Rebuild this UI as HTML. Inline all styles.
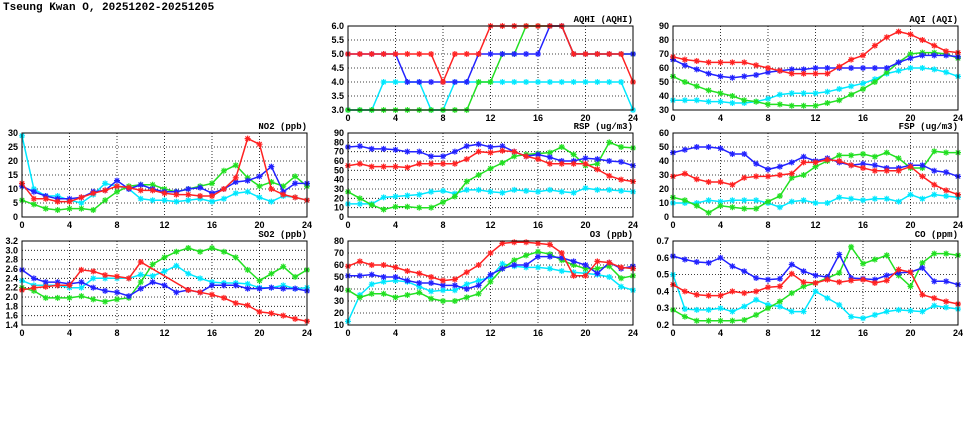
<!DOCTYPE html>
<html><head><meta charset="utf-8"><style>
body{margin:0;background:#fff;width:975px;height:447px;overflow:hidden}
svg{display:block}
text{font-family:"Liberation Sans",sans-serif;font-size:9px;font-weight:bold;fill:#000}
.t{font-family:"Liberation Mono",monospace;font-size:9px;font-weight:bold}
</style></head><body>
<svg id="s" width="975" height="447" xmlns="http://www.w3.org/2000/svg">
<text x="3" y="10" class="t" style="font-size:11px">Tseung Kwan O, 20251202-20251205</text>
</svg>
<script>
const C={c:"#00e8ff",g:"#22e022",b:"#2222ff",r:"#ff2222"};
const P=[
{t:"AQHI (AQHI)",x:348,y:26,min:3,max:6,st:0.5,dec:1,d:{
c:[3,3,3,4,4,4,4,3,3,4,4,4,4,4,4,4,4,4,4,4,4,4,4,4,3],
g:[3,3,3,3,3,3,3,3,3,3,3,4,4,5,5,6,6,6,6,5,5,5,5,5,5],
b:[5,5,5,5,5,4,4,4,4,4,4,5,5,5,5,5,5,6,6,5,5,5,5,5,5],
r:[5,5,5,5,5,5,5,5,4,5,5,5,6,6,6,6,6,6,6,5,5,5,5,5,4]}},
{t:"AQI (AQI)",x:673,y:26,min:30,max:90,st:10,dec:0,d:{
c:[37,37,37,36,36,35,35,36,38,41,42,42,42,43,45,47,49,52,56,58,60,60,59,57,54],
g:[54,50,47,44,42,40,37,36,34,34,33,33,33,35,37,41,45,50,57,64,70,71,71,70,67],
b:[66,62,59,56,54,53,54,55,57,58,59,59,60,60,60,60,60,60,60,64,67,69,69,69,68],
r:[68,66,65,64,64,64,64,62,60,58,56,56,56,56,61,66,69,76,82,86,84,80,76,72,71]}},
{t:"NO2 (ppb)",x:22,y:133,min:0,max:30,st:5,dec:0,d:{
c:[29,10,7.5,7.5,6,5,8,12,11,10,6.5,6,6,5.5,6,6.5,5.5,6.5,8.5,9,7,5.5,7.5,7,6],
g:[6,4.5,3,2.5,3,3,2.5,6,9,11,11.5,11.5,10,9,10,11,12,16.5,18.5,14,11,12.5,11,14.5,11],
b:[11,9,7.5,6.5,6.5,7,9,9.5,13,10,11.5,10,9,9,10,10.5,8.5,10,12.5,13,14.5,18,9,12,12],
r:[12,6.5,6.5,5.5,5.5,7,8.5,9.5,11,10.5,9.5,9.5,8.5,8,8,7.5,7.5,10,14,28,26,10,8,7,6]}},
{t:"RSP (ug/m3)",x:348,y:133,min:0,max:90,st:10,dec:0,d:{
c:[14,14,14,21,22,23,24,27,28,25,29,29,27,26,29,28,27,29,27,26,31,29,29,28,27],
g:[27,20,13,8,11,11,10,10,16,22,38,45,52,58,65,67,68,69,75,67,55,57,80,75,74],
b:[75,76,73,73,72,70,70,65,65,70,76,78,75,76,70,65,67,64,60,60,63,62,60,59,55],
r:[55,57,54,54,54,53,57,57,57,57,62,70,69,71,70,65,62,57,57,57,57,51,44,40,38]}},
{t:"FSP (ug/m3)",x:673,y:133,min:0,max:60,st:10,dec:0,d:{
c:[10,10,10,12,11,12,12,12,10,7,11,12,10,10,14,13,12,13,13,11,16,13,16,15,14],
g:[14,12,8,3,8,7,6,6,11,15,28,30,36,40,44,44,45,43,46,42,35,35,47,46,46],
b:[46,48,50,50,49,45,45,38,34,36,39,43,40,42,39,37,38,37,35,35,37,37,33,32,29],
r:[29,31,27,25,25,23,28,29,29,30,31,39,39,41,40,37,35,33,33,33,36,29,23,19,16]}},
{t:"SO2 (ppb)",x:22,y:241,min:1.4,max:3.2,st:0.2,dec:1,d:{
c:[2.35,2.25,2.25,2.25,2.2,2.2,2.4,2.4,2.4,2.4,2.48,2.45,2.55,2.67,2.5,2.4,2.32,2.3,2.3,2.28,2.2,2.2,2.25,2.18,2.2],
g:[2.2,2.13,1.98,1.98,1.98,2.02,1.95,1.9,1.95,1.98,2.32,2.7,2.85,2.97,3.05,2.97,3.05,2.97,2.85,2.58,2.35,2.5,2.65,2.43,2.58],
b:[2.58,2.4,2.32,2.32,2.28,2.32,2.2,2.13,2.1,2.02,2.18,2.32,2.25,2.1,2.15,2.1,2.25,2.25,2.25,2.18,2.18,2.2,2.18,2.18,2.13],
r:[2.15,2.2,2.22,2.25,2.25,2.58,2.55,2.47,2.44,2.4,2.75,null,null,null,2.15,2.1,2.05,1.98,1.87,1.82,1.68,1.65,1.6,1.53,1.48]}},
{t:"O3 (ppb)",x:348,y:241,min:10,max:80,st:10,dec:0,d:{
c:[13,35,44,46,47,46,42,38,39,39,44,47,50,61,59,58,58,57,55,54,53,52,50,42,39],
g:[39,33,36,36,33,35,37,32,30,30,33,36,46,57,64,68,71,69,64,60,57,57,59,49,51],
b:[51,51,52,50,50,47,45,45,43,43,40,43,52,57,60,60,67,67,66,63,60,53,62,57,59],
r:[59,63,60,60,58,55,53,50,47,48,54,60,70,78,79,79,78,77,70,51,51,63,62,58,57]}},
{t:"CO (ppm)",x:673,y:241,min:0.2,max:0.7,st:0.1,dec:1,d:{
c:[.50,.295,.29,.29,.30,.28,.31,.35,.32,.31,.28,.28,.40,.36,.32,.25,.24,.26,.28,.29,.285,.28,.315,.305,.295],
g:[.29,.25,.225,.225,.225,.225,.23,.26,.30,.34,.39,.43,.45,.48,.51,.665,.565,.59,.615,.495,.43,.57,.625,.625,.615],
b:[.61,.59,.575,.57,.60,.55,.52,.48,.47,.475,.56,.52,.495,.485,.62,.48,.475,.47,.495,.51,.515,.54,.46,.46,.44],
r:[.44,.40,.38,.375,.375,.40,.39,.40,.425,.43,.505,.455,.45,.47,.455,.465,.47,.45,.465,.53,.515,.38,.36,.34,.325]}}
];
const W=285,H=84;let o="";
for(const p of P){
 const X=h=>p.x+h*W/24, Y=v=>p.y+H-(v-p.min)/(p.max-p.min)*H;
 o+=`<text x="${p.x+W}" y="${p.y-4}" text-anchor="end" class="t">${p.t}</text>`;
 for(let h=4;h<24;h+=4)o+=`<line x1="${X(h)}" y1="${p.y}" x2="${X(h)}" y2="${p.y+H}" stroke="#000" stroke-width="0.8" stroke-dasharray="1,2"/>`;
 const n=Math.round((p.max-p.min)/p.st);
 for(let i=0;i<=n;i++){const v=p.min+i*p.st,y=Y(v);
  if(i>0&&i<n)o+=`<line x1="${p.x}" y1="${y}" x2="${p.x+W}" y2="${y}" stroke="#000" stroke-width="0.8" stroke-dasharray="1,2"/>`;
  o+=`<text x="${p.x-4}" y="${y+3}" text-anchor="end">${v.toFixed(p.dec)}</text>`;}
 for(let h=0;h<=24;h+=4)o+=`<text x="${X(h)}" y="${p.y+H+11}" text-anchor="middle">${h}</text>`;
 for(const k of ["c","g","b","r"]){const a=p.d[k];let pts=[];
  a.forEach((v,h)=>{if(v!==null)pts.push([X(h),Y(v)])});
  o+=`<polyline points="${pts.map(q=>q[0].toFixed(1)+","+q[1].toFixed(1)).join(" ")}" fill="none" stroke="${C[k]}" stroke-width="1.5"/>`;
  for(const [x,y] of pts)o+=`<path d="M${x-3} ${y}h6M${x} ${y-3}v6M${x-2.2} ${y-2.2}l4.4 4.4M${x-2.2} ${y+2.2}l4.4 -4.4" stroke="${C[k]}" stroke-width="1.2"/>`;}
 o+=`<rect x="${p.x}" y="${p.y}" width="${W}" height="${H}" fill="none" stroke="#000" stroke-width="1"/>`;
}
document.getElementById("s").insertAdjacentHTML("beforeend",o);
</script>
</body></html>
